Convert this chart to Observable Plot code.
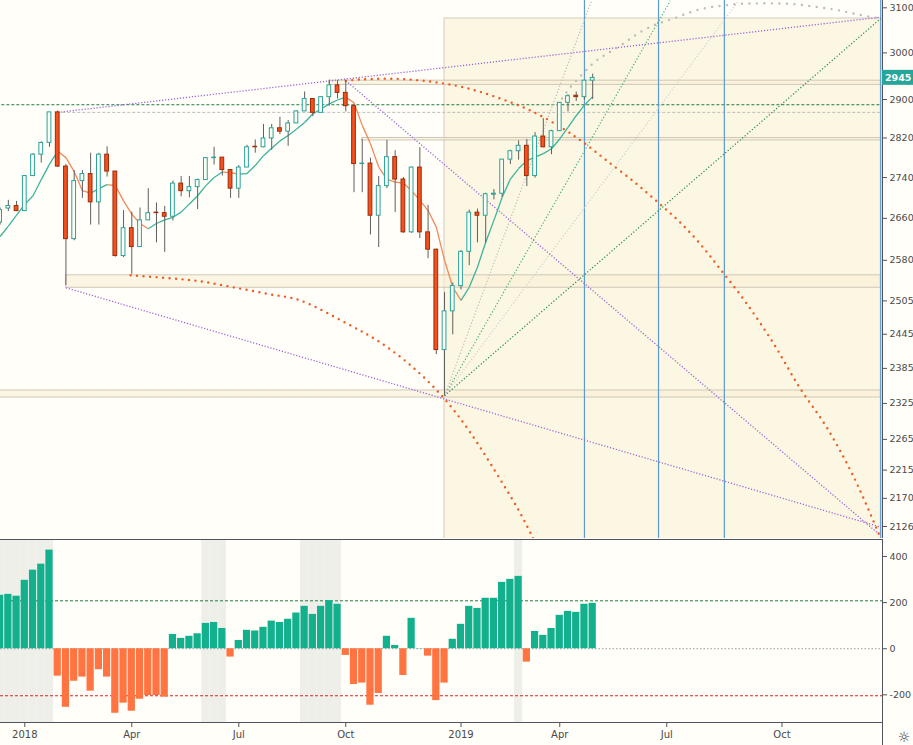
<!DOCTYPE html>
<html><head><meta charset="utf-8">
<script src="https://cdn.jsdelivr.net/npm/d3@7"></script>
<script src="https://cdn.jsdelivr.net/npm/@observablehq/plot@0.6"></script>
<style>
html,body{margin:0;padding:0;background:#fffef8;}
#chart{position:relative;width:913px;height:745px;overflow:hidden;background:#fffef8;}
#chart svg{position:absolute;left:0;overflow:visible;}
</style></head><body><div id="chart"></div>
<script>
// ---------- data ----------
const weeks = ["2017-12-11","2017-12-18","2017-12-25",
"2018-01-01","2018-01-08","2018-01-15","2018-01-22","2018-01-29","2018-02-05","2018-02-12","2018-02-19","2018-02-26",
"2018-03-05","2018-03-12","2018-03-19","2018-03-26","2018-04-02","2018-04-09","2018-04-16","2018-04-23","2018-04-30",
"2018-05-07","2018-05-14","2018-05-21","2018-05-28","2018-06-04","2018-06-11","2018-06-18","2018-06-25","2018-07-02",
"2018-07-09","2018-07-16","2018-07-23","2018-07-30","2018-08-06","2018-08-13","2018-08-20","2018-08-27","2018-09-03",
"2018-09-10","2018-09-17","2018-09-24","2018-10-01","2018-10-08","2018-10-15","2018-10-22","2018-10-29","2018-11-05",
"2018-11-12","2018-11-19","2018-11-26","2018-12-03","2018-12-10","2018-12-17","2018-12-24","2018-12-31",
"2019-01-07","2019-01-14","2019-01-21","2019-01-28","2019-02-04","2019-02-11","2019-02-18","2019-02-25","2019-03-04",
"2019-03-11","2019-03-18","2019-03-25","2019-04-01","2019-04-08","2019-04-15","2019-04-22","2019-04-29"];
const opens = [2652,2679,2684, 2674,2743,2786,2810,2873,2762,2620,2733,2747,2691,2786,2752,2588,2641,2605,2656,2671,2670,
2663,2728,2713,2721,2735,2779,2780,2755,2718,2760,2802,2801,2819,2840,2833,2850,2875,2901,2872,2905,2930,2914,2886,2767,
2768,2665,2723,2781,2736,2633,2760,2633,2600,2417,2486, 2532,2596,2671,2665,2706,2708,2776,2793,2804,2743,2823,2801,2834,
2893,2908,2905,2940];
const highs = [2680,2695,2693, 2744,2788,2812,2873,2876,2766,2754,2754,2789,2789,2802,2752,2675,2672,2680,2718,2690,2683,
2733,2742,2742,2737,2780,2801,2780,2755,2764,2805,2816,2848,2848,2863,2856,2876,2916,2901,2906,2941,2940,2940,2889,2817,
2779,2742,2815,2794,2740,2761,2800,2685,2601,2520,2538, 2598,2676,2678,2709,2716,2776,2795,2814,2817,2831,2860,2836,2893,
2910,2916,2940,2954];
const lows = [2647,2673,2673, 2673,2742,2769,2801,2760,2533,2617,2699,2647,2647,2741,2586,2585,2554,2605,2656,2613,2595,
2655,2702,2700,2677,2735,2765,2743,2699,2699,2760,2789,2800,2795,2827,2803,2850,2875,2864,2872,2886,2901,2874,2710,2710,
2628,2604,2718,2671,2631,2631,2621,2583,2409,2338,2444, 2525,2570,2613,2612,2696,2701,2766,2775,2722,2739,2800,2786,2834,
2874,2896,2899,2900];
const closes = [2676,2684,2674, 2743,2786,2810,2873,2762,2620,2733,2747,2691,2786,2752,2588,2641,2605,2656,2670,2670,2663,
2728,2713,2721,2735,2779,2780,2755,2718,2760,2801,2801,2819,2840,2833,2850,2875,2901,2872,2905,2930,2914,2886,2767,2768,
2665,2723,2781,2736,2633,2760,2633,2600,2417,2486,2532, 2596,2671,2665,2707,2708,2776,2793,2804,2743,2823,2801,2834,2893,
2907,2905,2940,2946];
const maValues = [2625,2645,2666, 2687,2704,2736,2767,2793,2780,2752,2714,2709,2718,2726,2724,2694,2668,2650,2640,2650,2657,
2662,2672,2688,2704,2724,2740,2751,2750,2747,2748,2764,2784,2799,2814,2825,2838,2852,2870,2880,2891,2899,2905,2893,2846,
2808,2761,2737,2731,2729,2714,2695,2675,2643,2580,2530, 2506,2530,2567,2614,2656,2701,2737,2758,2774,2781,2788,2798,2818,
2842,2866,2888,2906];
const oscValues = [232,236,228, 297,341,367,428,-119,-254,-141,-123,-184,-91,-123,-280,-236,-271,-219,-203,-203,-210,
62,45,54,65,110,114,88,-36,36,80,77,93,120,114,128,155,184,149,184,209,193,-29,-155,
-149,-245,-194,54,14,-116,132,1,-32,-225,-149,41, 106,184,175,219,219,288,301,314,-58,75,58,88,145,
162,158,193,197];
const shadedWeeks = ["2017-12-11","2017-12-18","2017-12-25","2018-01-01","2018-01-08","2018-01-15","2018-01-22",
"2018-06-04","2018-06-11","2018-06-18","2018-08-27","2018-09-03","2018-09-10","2018-09-17","2018-09-24","2019-02-25"];
const upperLevel = 208, zeroLevel = 0, lowerLevel = -204;

const lastPrice = 2945;
const priceTicks = [3100,3000,2900,2820,2740,2660,2580,2505,2445,2385,2325,2265,2215,2170,2126];
const oscTicks = [400,200,0,-200];
const tickDates = ["2018-01-01","2018-04-02","2018-07-02","2018-10-01","2019-01-07","2019-04-01","2019-07-01","2019-10-07"];
const tickLabels = ["2018","Apr","Jul","Oct","2019","Apr","Jul","Oct"];

// drawings (in date / price units)
const boxStart = "2018-12-24", boxEnd = "2019-12-30", boxLow = 2090, boxHigh = 3076;
const bandStarts = ["2017-12-04","2018-02-05","2018-09-17","2018-10-15"];
const bandLows = [2335,2529,2931,2815];
const bandHighs = [2347,2552,2940,2820];
const greenLevel = 2889, greenLevelStart = "2017-12-04";
const grayLevel = 2873, grayLevelStart = "2018-01-29";
const verticalDates = ["2019-04-22","2019-06-24","2019-08-19","2019-12-30"];
const fanOriginDate = "2018-12-24", fanOriginPrice = 2338;
const fanEndDates = ["2019-04-28","2019-07-04","2019-08-31","2019-12-30"];
const fanEndPrices = [3116,3116,3116,3076];
const trendStartDates = ["2018-01-29","2018-02-05","2018-10-01"];
const trendStartPrices = [2873,2529,2940];
const trendEndDates = ["2019-12-30","2019-12-30","2019-12-30"];
const trendEndPrices = [3079,2125,2112];
const arc1Dates = ["2018-10-01","2018-10-16","2018-11-13","2018-12-12","2019-01-09","2019-02-06","2019-03-07","2019-04-04",
"2019-04-21","2019-05-11","2019-06-05","2019-06-25","2019-07-12","2019-07-29","2019-08-15","2019-09-06","2019-09-30",
"2019-10-22","2019-11-14","2019-12-07","2019-12-29"];
const arc1Prices = [2940,2943,2944,2938,2926,2905,2877,2839,2811,2774,2728,2688,2653,2612,2565,2503,2428,2352,2285,2204,2112];
const arc2Dates = ["2018-04-01","2018-05-02","2018-05-30","2018-06-27","2018-07-26","2018-08-23","2018-10-02","2018-10-30",
"2018-11-27","2018-12-23","2019-01-15","2019-02-09","2019-02-26","2019-03-09","2019-03-14"];
const arc2Prices = [2552,2547,2541,2530,2518,2506,2464,2431,2387,2335,2276,2201,2148,2109,2090];
const arc3Dates = ["2019-04-03","2019-04-10","2019-04-21","2019-05-02","2019-05-13","2019-05-25","2019-06-08","2019-06-22",
"2019-07-06","2019-07-21","2019-08-04","2019-08-18","2019-09-01","2019-09-15","2019-09-29","2019-10-14","2019-10-28",
"2019-11-11","2019-11-25","2019-12-09","2019-12-27"];
const arc3Prices = [2902,2926,2956,2983,3001,3020,3045,3063,3075,3090,3100,3105,3109,3110,3110,3109,3105,3100,3094,3086,3077];

// ---------- helpers ----------
const D = s => new Date(s.length <= 10 ? s + "T00:00:00Z" : s);
const shift = (d, days) => new Date(+d + days * 864e5);
const X_DOMAIN = [D("2017-12-11T08:00:00Z"), D("2019-12-31T12:00:00Z")];
const FONT = "DejaVu Sans";
const TEAL = "#26a69a", RED = "#f4511e";

const candles = weeks.map((w, i) => ({date: D(w), o: opens[i], h: highs[i], l: lows[i], c: closes[i]}));
const maSegs = maValues.slice(1).map((v, k) => ({x1: D(weeks[k]), y1: maValues[k], x2: D(weeks[k + 1]), y2: v, up: v >= maValues[k]}));
const bands = bandStarts.map((s, i) => ({x1: D(s), x2: D(boxEnd), lo: bandLows[i], hi: bandHighs[i]}));
const fans = fanEndDates.map((d, i) => ({x1: D(fanOriginDate), y1: fanOriginPrice, x2: D(d), y2: fanEndPrices[i], k: i}));
const trends = trendStartDates.map((d, i) => ({x1: D(d), y1: trendStartPrices[i], x2: D(trendEndDates[i]), y2: trendEndPrices[i]}));
const arc = (ds, ps) => ds.map((d, i) => ({x: D(d), y: ps[i]}));
const fanColors = ["#b8b8b8", "#3dae74", "#cfcfcf", "#1f8a4c"];

const dotArc = (data, color, gap) => Plot.line(data, {x: "x", y: "y", stroke: color, strokeWidth: 2.4,
  strokeDasharray: `0,${gap}`, strokeLinecap: "round", curve: "catmull-rom", clip: true});

const main = Plot.plot({
  width: 913, height: 538,
  marginTop: 0, marginBottom: 0, marginLeft: 0, marginRight: 31,
  x: {type: "utc", domain: X_DOMAIN, axis: null},
  y: {type: "log", domain: [2107.5, 3116.5], axis: null},
  style: {background: "transparent", fontFamily: FONT, fontSize: "10px", color: "#4a4a4a", overflow: "visible"},
  marks: [
    Plot.rect([0], {x1: D(boxStart), x2: D(boxEnd), y1: boxLow, y2: boxHigh, fill: "#fcf7e3", stroke: "#d4cdbc", clip: true}),
    Plot.rect(bands, {x1: "x1", x2: "x2", y1: "lo", y2: "hi", fill: "#f9efd6", fillOpacity: 0.6, stroke: "#cfc8b6", clip: true}),
    Plot.ruleY([greenLevel], {x1: D(greenLevelStart), x2: D(boxEnd), stroke: "#1e7d44", strokeDasharray: "3,2", clip: true}),
    Plot.ruleY([grayLevel], {x1: D(grayLevelStart), x2: D(boxEnd), stroke: "#bdbdbd", strokeDasharray: "3,2", clip: true}),
    Plot.ruleX(verticalDates.map(D), {stroke: "#5b9bd0", strokeWidth: 1.2}),
    Plot.link(fans, {x1: "x1", y1: "y1", x2: "x2", y2: "y2", stroke: d => fanColors[d.k], strokeWidth: 1.2,
      strokeDasharray: "1.2,2", clip: true}),
    Plot.link(trends, {x1: "x1", y1: "y1", x2: "x2", y2: "y2", stroke: "#9a63d8", strokeWidth: 1.3,
      strokeDasharray: "1.2,1.8", clip: true}),
    dotArc(arc(arc1Dates, arc1Prices), "#f05a22", 6.5),
    dotArc(arc(arc2Dates, arc2Prices), "#f05a22", 6.5),
    dotArc(arc(arc3Dates, arc3Prices), "#bcbcbc", 7.5),
    Plot.link(maSegs, {x1: "x1", y1: "y1", x2: "x2", y2: "y2", stroke: d => d.up ? "#3bb39b" : "#f08a5b", strokeWidth: 1.3}),
    Plot.ruleX(candles, {x: "date", y1: "l", y2: "h", stroke: "#5e5e5e"}),
    Plot.rect(candles, {x1: d => shift(d.date, -1.6), x2: d => shift(d.date, 1.6), y1: "o", y2: "c",
      fill: d => d.c >= d.o ? "#fdfdf6" : RED, stroke: d => d.c >= d.o ? "#2aa398" : "#9e2a08", strokeWidth: 1}),
    Plot.ruleX([X_DOMAIN[1]], {stroke: "#50535e"}),
    Plot.axisY(priceTicks, {anchor: "right", label: null, tickSize: 4, tickPadding: 3, fontSize: 9.5,
      tickFormat: d => String(d), fill: "#4a4a4a", stroke: "#50535e"})
  ]
});
main.style.top = "0px";

// last-price label on the right scale
const yLast = main.scale("y").apply(lastPrice);
const xRight = main.scale("x").apply(X_DOMAIN[1]);
const gm = d3.select(main).append("g").attr("text-anchor", "start");
gm.append("rect").attr("x", xRight).attr("y", yLast - 8).attr("width", 913 - xRight).attr("height", 15).attr("fill", TEAL);
gm.append("text").attr("x", xRight + 3).attr("y", yLast + 3.5).attr("fill", "white").attr("font-weight", "bold")
  .attr("font-family", FONT).attr("font-size", 9.5).text(String(lastPrice));

const oscTable = weeks.map((w, i) => ({date: D(w), v: oscValues[i]}));
const labelOf = new Map(tickDates.map((d, i) => [+D(d), tickLabels[i]]));

const lower = Plot.plot({
  width: 913, height: 207,
  marginTop: 1, marginBottom: 23, marginLeft: 0, marginRight: 31,
  x: {type: "utc", domain: X_DOMAIN, axis: null},
  y: {domain: [-320, 474], axis: null},
  style: {background: "transparent", fontFamily: FONT, fontSize: "10px", color: "#4a4a4a", overflow: "visible"},
  marks: [
    Plot.rect(shadedWeeks.map(D), {x1: d => shift(d, -3.5), x2: d => shift(d, 3.5), y1: -320, y2: 474, fill: "#efefea", clip: true}),
    Plot.ruleY([upperLevel], {stroke: "#1e7d44", strokeDasharray: "3,2"}),
    Plot.ruleY([zeroLevel], {stroke: "#9a9a9a", strokeDasharray: "1.5,2"}),
    Plot.ruleY([lowerLevel], {stroke: "#d42424", strokeDasharray: "3,2"}),
    Plot.rect(oscTable, {x1: d => shift(d.date, -3.5), x2: d => shift(d.date, 3.5), y1: 0, y2: "v",
      insetLeft: 0.5, insetRight: 0.5, fill: d => d.v >= 0 ? "#12b08c" : "#ff7440"}),
    Plot.ruleY([474], {stroke: "#50535e"}),
    Plot.ruleY([-320], {stroke: "#50535e"}),
    Plot.ruleX([X_DOMAIN[1]], {y1: -420, y2: 474, stroke: "#50535e"}),
    Plot.axisY(oscTicks, {anchor: "right", label: null, tickSize: 4, tickPadding: 3, fontSize: 9.5,
      tickFormat: d => String(d), fill: "#4a4a4a", stroke: "#50535e"}),
    Plot.axisX(tickDates.map(D), {label: null, tickSize: 5, tickPadding: 3, tickFormat: d => labelOf.get(+d),
      fill: "#4a4a4a", stroke: "#50535e"})
  ]
});
lower.style.top = "538px";
d3.select(lower).append("text").attr("x", 904).attr("y", 204).attr("text-anchor", "middle")
  .attr("font-size", 14).attr("fill", "#333").attr("font-family", FONT).text("☼");

document.getElementById("chart").append(main, lower);
</script>
</body></html>
